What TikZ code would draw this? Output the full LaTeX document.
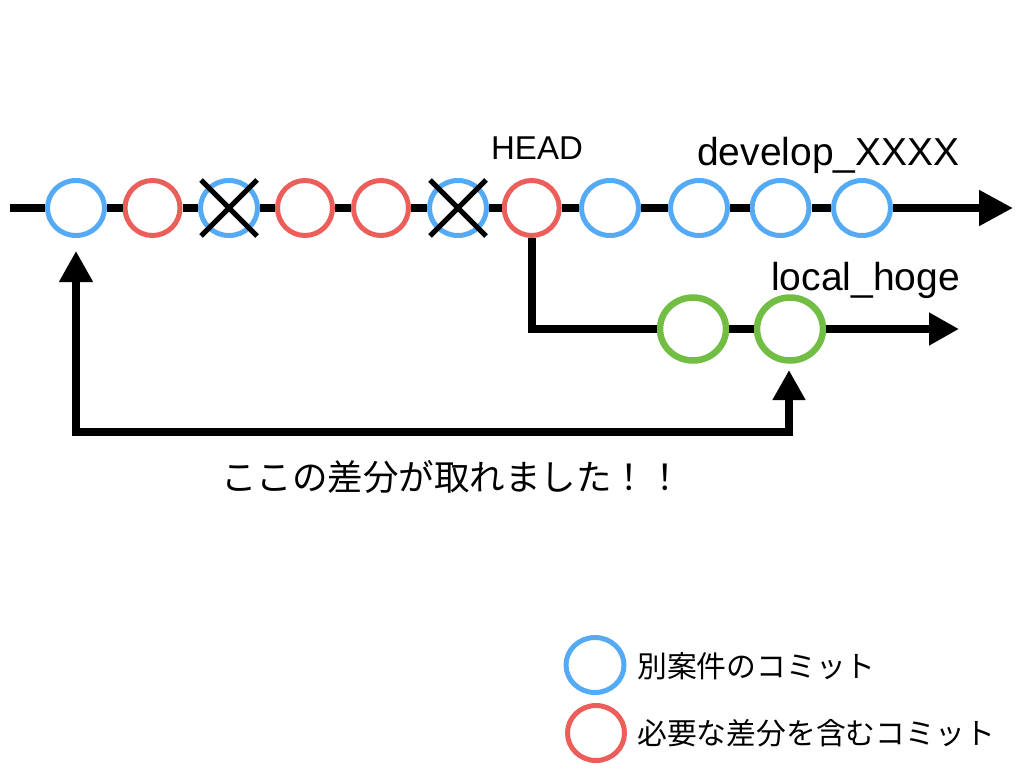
\documentclass[tikz,border=0pt]{standalone}
\usepackage{fontspec}
\setmainfont{Liberation Sans}
\newfontfamily\jpfont{Noto Sans CJK JP}
\usetikzlibrary{arrows.meta,shapes.geometric}
\definecolor{cblue}{RGB}{85,170,245}
\definecolor{cred}{RGB}{236,94,89}
\definecolor{cgreen}{RGB}{114,190,68}
\tikzset{
  commit/.style={ellipse,draw,line width=5pt,fill=white,inner sep=0pt,minimum width=57pt,minimum height=55pt},
  bluec/.style={commit,draw=cblue},
  redc/.style={commit,draw=cred,minimum width=55pt},
  greenc/.style={commit,draw=cgreen,line width=6.5pt,minimum width=66pt,minimum height=63pt},
  branchline/.style={line width=8pt,line join=miter},
  bigtip/.style={-{Triangle[length=34pt,width=34pt]}},
  smalltip/.style={-{Triangle[length=30pt,width=31pt]}},
  xmark/.style={line width=5pt,draw=black},
  label/.style={inner sep=0pt,font=\fontsize{39pt}{41pt}\selectfont},
  jptext/.style={inner sep=0pt,font=\jpfont\fontsize{35.5pt}{37pt}\selectfont},
  legtext/.style={inner sep=0pt,anchor=west,font=\jpfont\fontsize{29.8pt}{31pt}\selectfont}
}
\begin{document}
\begin{tikzpicture}[x=1pt,y=-1pt]
\useasboundingbox (0,0) rectangle (1024,768);
% main branch
\coordinate (s) at (10,208);
\coordinate (e) at (1013,208);
\node[bluec] (c1) at (76,208) {};
\node[redc] (c2) at (152.5,208) {};
\node[bluec] (c3) at (229,208) {};
\node[redc] (c4) at (305,208) {};
\node[redc] (c5) at (381,208) {};
\node[bluec] (c6) at (458,208) {};
\node[redc] (c7) at (531.7,208) {};
\node[bluec] (c8) at (610,208) {};
\node[bluec] (c9) at (699,208) {};
\node[bluec] (c10) at (780.5,208) {};
\node[bluec] (c11) at (862,208) {};
\draw[branchline] (s) -- (c1) -- (c2) -- (c3) -- (c4) -- (c5) -- (c6) -- (c7) -- (c8) -- (c9) -- (c10) -- (c11);
\draw[branchline,bigtip] (c11) -- (e);
% crosses
\draw[xmark] (c3) ++(-28,-28) -- ++(56,56);
\draw[xmark] (c3) ++(-28,28) -- ++(56,-56);
\draw[xmark] (c6) ++(-28,-28) -- ++(56,56);
\draw[xmark] (c6) ++(-28,28) -- ++(56,-56);
% local branch
\node[greenc] (g1) at (693,329) {};
\node[greenc] (g2) at (790,329) {};
\coordinate (e2) at (959,329);
\draw[branchline] (c7) |- (g1) -- (g2);
\draw[branchline,smalltip] (g2) -- (e2);
% diff arrow
\coordinate (a1) at (76,251);
\coordinate (a2) at (789,370);
\coordinate (bot) at (430,432);
\draw[line width=7.5pt,line join=miter,{Triangle[length=31pt,width=32pt]}-{Triangle[length=30pt,width=31pt]}] (a1) |- (bot) -| (a2);
% labels
\node[inner sep=0pt,font=\fontsize{33pt}{35pt}\selectfont] (head) at (537,148) {HEAD};
\node[label,anchor=base west] (dev) at (697,165) {develop\_XXXX};
\node[label,anchor=base west] (loc) at (771,290) {local\_hoge};
\node[jptext] (msg) at (452,477) {ここの差分が取れました！！};
% legend
\node[bluec,minimum width=58pt,minimum height=55pt] (lb) at (595,665) {};
\node[redc,minimum width=57pt,minimum height=55pt] (lr) at (596,733) {};
\node[legtext] (lbt) at (637,666) {別案件のコミット};
\node[legtext] (lrt) at (637,733) {必要な差分を含むコミット};
\end{tikzpicture}
\end{document}
